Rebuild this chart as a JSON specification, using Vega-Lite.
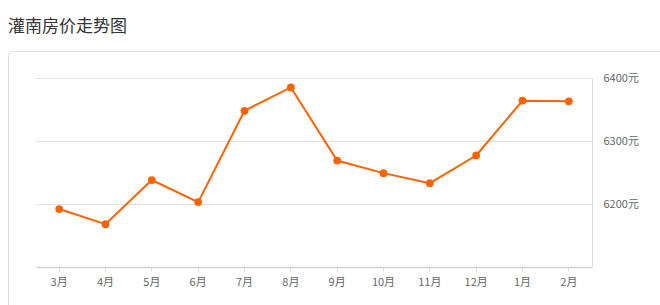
{
  "$schema": "https://vega.github.io/schema/vega-lite/v6.json",
  "width": 660,
  "height": 270,
  "autosize": {"type": "none"},
  "padding": {"left": 8, "top": 51, "right": -8, "bottom": -16},
  "title": {
    "text": "灌南房价走势图",
    "anchor": "start",
    "frame": "group",
    "baseline": "bottom",
    "offset": -2,
    "fontSize": 17,
    "fontWeight": "normal",
    "color": "#333333",
    "font": "Noto Sans CJK SC"
  },
  "config": {
    "view": {"stroke": "#e0e0e0", "cornerRadius": 4, "strokeWidth": 1},
    "font": "Noto Sans CJK SC",
    "axis": {"labelFont": "Noto Sans CJK SC"}
  },
  "data": {
    "values": [
      {"month": "3月", "price": 6192},
      {"month": "4月", "price": 6168},
      {"month": "5月", "price": 6238},
      {"month": "6月", "price": 6203},
      {"month": "7月", "price": 6348},
      {"month": "8月", "price": 6385},
      {"month": "9月", "price": 6269},
      {"month": "10月", "price": 6249},
      {"month": "11月", "price": 6233},
      {"month": "12月", "price": 6277},
      {"month": "1月", "price": 6364},
      {"month": "2月", "price": 6363}
    ]
  },
  "encoding": {
    "x": {
      "field": "month",
      "type": "ordinal",
      "sort": null,
      "bandPosition": 0.5,
      "scale": {"type": "band", "range": [28, 584], "paddingInner": 0, "paddingOuter": 0},
      "axis": {
        "orient": "bottom",
        "offset": -54,
        "title": null,
        "labelAngle": 0,
        "bandPosition": 0.5,
        "domainColor": "#cfd3d9",
        "domainWidth": 1.5,
        "tickColor": "#dcdcdc",
        "tickSize": 4,
        "labelFontSize": 11,
        "labelColor": "#666666",
        "labelPadding": 5,
        "grid": false
      }
    }
  },
  "layer": [
    {
      "mark": {"type": "line", "color": "#ff6200", "strokeWidth": 2},
      "encoding": {
        "y": {
          "field": "price",
          "type": "quantitative",
          "scale": {"domain": [6100, 6400], "range": [216, 27], "zero": false, "nice": false},
          "axis": {
            "orient": "left",
            "title": null,
            "values": [6200, 6300, 6400],
            "labels": false,
            "ticks": false,
            "domain": false,
            "grid": true,
            "gridColor": "#e3e3e3"
          }
        }
      }
    },
    {
      "mark": {"type": "point", "filled": true, "color": "#ff6200", "size": 60, "opacity": 1},
      "encoding": {
        "y": {
          "field": "price",
          "type": "quantitative",
          "scale": {"domain": [6100, 6400], "range": [216, 27], "zero": false, "nice": false},
          "axis": {
            "orient": "right",
            "offset": -76,
            "title": null,
            "values": [6200, 6300, 6400],
            "labelExpr": "datum.value + '元'",
            "ticks": false,
            "domainColor": "#e0e0e0",
            "grid": false,
            "labelFontSize": 11,
            "labelColor": "#666666",
            "labelPadding": 11
          }
        }
      }
    }
  ],
  "resolve": {"axis": {"y": "independent"}}
}
